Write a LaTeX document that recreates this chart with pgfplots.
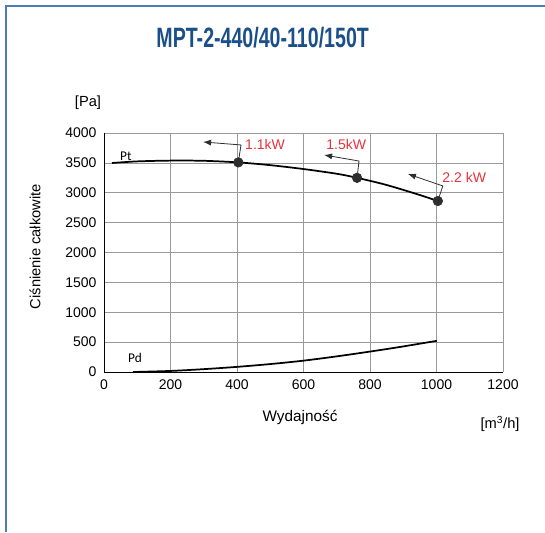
\documentclass[border=0pt]{standalone}
\usepackage{pgfplots}
\pgfplotsset{compat=1.18}
\usetikzlibrary{arrows.meta}
\usepackage{fontspec}
\setmainfont{Liberation Sans}
\newfontfamily\calib{Carlito}
\definecolor{titleblue}{HTML}{1B4F8A}
\definecolor{framebl}{HTML}{4A7FB5}
\definecolor{kwred}{HTML}{E8323C}
\definecolor{gridgr}{HTML}{9A9A9A}
\definecolor{dot}{HTML}{2E2E2E}

% pixel -> pt: 0.75
\begin{document}
\begin{tikzpicture}
\useasboundingbox (0,0) rectangle (408.75pt,-399pt);
\draw[framebl, line width=1.5pt] (4.5pt,-399pt) -- (4.5pt,-4.5pt) -- (408.75pt,-4.5pt);

\node[titleblue, font=\fontsize{21}{21}\selectfont\bfseries, xscale=0.7] at (197pt,-28.5pt) {MPT-2-440/40-110/150T};

\begin{axis}[
    at={(78pt,-279pt)}, anchor=south west,
    scale only axis,
    width=299.25pt, height=179.25pt,
    xmin=0, xmax=1200, ymin=0, ymax=4000,
    xtick={0,200,...,1200},
    ytick={0,500,...,4000},
    axis lines=left,
    axis line style={-, black, line width=0.6pt},
    grid=major,
    grid style={gridgr, line width=0.5pt},
    tick style={draw=none},
    tick label style={font=\fontsize{10.5}{10.5}\selectfont},
    /pgf/number format/assume math mode=true,
    /pgf/number format/1000 sep={},
    clip=false,
]
% Pt
\addplot[black, line width=1.3pt, smooth] coordinates {
(24,3498) (100,3525) (200,3538) (300,3535) (404,3508) (500,3462)
(600,3397) (700,3318) (761,3250) (850,3130) (950,2962) (1004,2862)
};
% Pd
\addplot[black, line width=1.3pt, smooth] coordinates {
(87,0) (200,18) (300,48) (400,86) (500,133) (600,190) (700,262)
(800,342) (900,428) (1001,522)
};
% operating points
\addplot[only marks, mark=*, mark size=3.6pt, dot] coordinates {
(404,3508) (761,3250) (1004,2862)
};
\draw[dot, line width=0.6pt, -{Latex[length=6pt,width=4.5pt]}] (axis cs:404,3508) -- (axis cs:412,3800) -- (axis cs:298,3850);
\draw[dot, line width=0.6pt, -{Latex[length=6pt,width=4.5pt]}] (axis cs:761,3250) -- (axis cs:767,3531) -- (axis cs:662,3632);
\draw[dot, line width=0.6pt, -{Latex[length=6pt,width=4.5pt]}] (axis cs:1004,2862) -- (axis cs:1019,3114) -- (axis cs:914,3314);
\node[kwred, anchor=west, inner sep=0pt, font=\fontsize{10.5}{10.5}\selectfont] at (axis cs:424,3816) {1.1kW};
\node[kwred, anchor=west, inner sep=0pt, font=\fontsize{10.5}{10.5}\selectfont] at (axis cs:668,3816) {1.5kW};
\node[kwred, anchor=west, inner sep=0pt, font=\fontsize{10.5}{10.5}\selectfont] at (axis cs:1017,3264) {2.2 kW};
\node[anchor=west, inner sep=0pt, font=\calib\fontsize{10}{10}\selectfont] at (axis cs:48,3615) {Pt};
\node[anchor=west, inner sep=0pt, font=\calib\fontsize{10}{10}\selectfont] at (axis cs:72,234) {Pd};
\end{axis}

\node[rotate=90, font=\fontsize{11}{11}\selectfont] at (26.25pt,-185pt) {Ciśnienie całkowite};
\node[font=\fontsize{11}{11}\selectfont] at (66pt,-77.25pt) {[Pa]};
\node[font=\fontsize{11.5}{11.5}\selectfont] at (225pt,-312.75pt) {Wydajność};
\node[font=\fontsize{11}{11}\selectfont] at (375pt,-318pt) {[m\textsuperscript{3}/h]};
\end{tikzpicture}
\end{document}
